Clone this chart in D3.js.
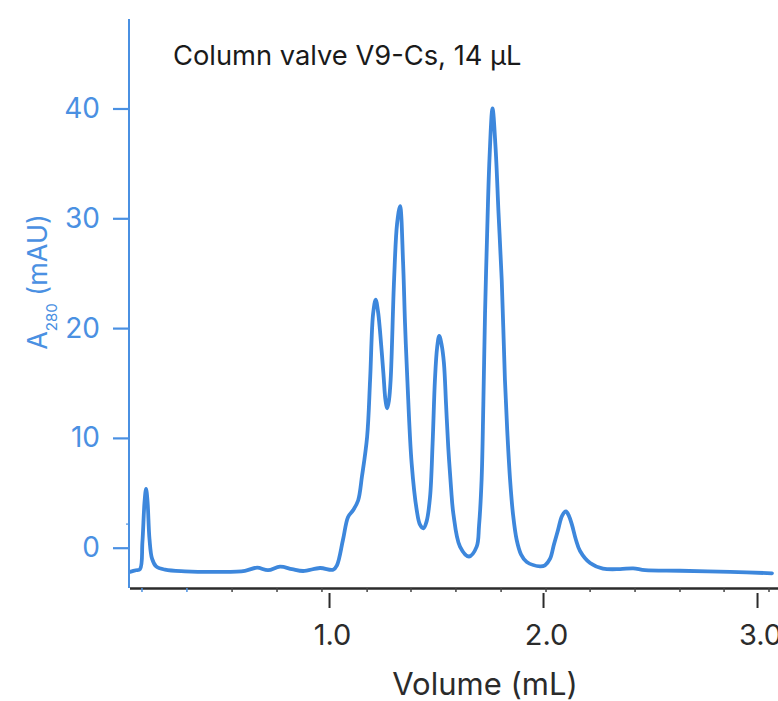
<!DOCTYPE html>
<html>
<head>
<meta charset="utf-8">
<script src="https://cdn.jsdelivr.net/npm/d3@7"></script>
<style>
  html, body { margin: 0; padding: 0; background: #fff; }
  svg { display: block; font-family: Inter, "Noto Sans", sans-serif; }
</style>
</head>
<body>
<svg id="chart" width="778" height="701"></svg>
<script>
// ---- data ----
const volume = [0.070,0.098,0.117,0.128,0.138,0.145,0.152,0.161,0.173,0.192,0.234,0.327,0.491,0.607,0.664,0.715,0.771,0.827,0.879,0.958,1.019,1.037,1.065,1.089,1.112,1.136,1.154,1.178,1.192,1.206,1.218,1.229,1.238,1.254,1.264,1.272,1.280,1.288,1.304,1.318,1.332,1.346,1.355,1.366,1.386,1.410,1.425,1.441,1.456,1.472,1.484,1.495,1.505,1.515,1.526,1.537,1.547,1.557,1.570,1.581,1.612,1.654,1.690,1.701,1.713,1.721,1.729,1.738,1.750,1.764,1.778,1.792,1.807,1.822,1.834,1.846,1.860,1.877,1.897,1.924,1.986,2.009,2.033,2.051,2.070,2.089,2.107,2.121,2.135,2.154,2.173,2.220,2.280,2.360,2.421,2.477,2.640,2.874,3.070];
const absorbance = [-2.2,-2.05,-1.95,0.5,4.2,5.35,4.2,0.8,-1.0,-1.7,-2.0,-2.15,-2.2,-2.1,-1.82,-2.05,-1.73,-1.95,-2.12,-1.85,-2.0,-1.6,0.7,2.8,3.4,4.3,6.5,10.1,15.3,21.3,22.6,21.5,19.8,15.9,13.4,12.7,13.4,15.3,24.4,29.5,31.1,26.0,20.5,15.3,7.7,3.4,2.1,1.77,2.4,4.6,9.5,15.3,18.2,19.3,18.5,16.8,13.0,9.2,5.5,3.1,0.1,-0.8,0.1,2.0,6.2,13.0,21.3,28,35.5,40.0,36.5,30.5,24.4,15.3,10.2,6.2,3.0,0.7,-0.6,-1.3,-1.7,-1.6,-1.0,0.3,1.6,2.9,3.3,2.9,2.1,0.7,-0.3,-1.4,-1.9,-1.95,-1.88,-2.05,-2.1,-2.2,-2.33];
const yTicks = [0, 10, 20, 30, 40];
const xTicks = [1.0, 2.0, 3.0];
const xMinorTicks = [0.126,0.336,0.547,0.757,0.967,1.178,1.383,1.593,1.804,2.014,2.220,2.430,2.640,2.846,3.056];
const yMinorTicks = [2.15];
const titleText = "Column valve V9-Cs, 14 µL";
const xLabel = "Volume (mL)";

// ---- layout ----
const svg = d3.select("#chart");
const blue = "#3d87dc", blueText = "#4a90e2", dark = "#2b2b2b";
const x = d3.scaleLinear().domain([0.07, 3.098]).range([130, 778]);
const y = d3.scaleLinear().domain([-3.67, 48.15]).range([588, 19]);

// line
const line = d3.line().x((d, i) => x(volume[i])).y(d => y(d)).curve(d3.curveCatmullRom.alpha(0.5));
svg.append("path").datum(absorbance)
  .attr("d", line).attr("fill", "none")
  .attr("stroke", blue).attr("stroke-width", 3.8)
  .attr("stroke-linejoin", "round").attr("stroke-linecap", "round");

// y axis
const yAxis = svg.append("g").attr("transform", "translate(129,0)")
  .call(d3.axisLeft(y).tickValues(yTicks).tickSize(16).tickPadding(13).tickFormat(d3.format("d")));
yAxis.select(".domain").attr("d", `M0,${y.range()[1]}V${y.range()[0]}`).attr("stroke", blueText).attr("stroke-width", 2);
yAxis.selectAll(".tick line").attr("stroke", blueText).attr("stroke-width", 2.2);
yAxis.selectAll(".tick text").attr("fill", blueText).attr("font-size", 28).attr("font-family", "Inter, sans-serif");
svg.append("g").selectAll("line").data(yMinorTicks).join("line")
  .attr("x1", 126).attr("x2", 129).attr("y1", d => y(d)).attr("y2", d => y(d))
  .attr("stroke", blueText).attr("stroke-width", 1.2);

// x axis line
svg.append("line").attr("x1", 130).attr("x2", 778).attr("y1", 588.5).attr("y2", 588.5)
  .attr("stroke", dark).attr("stroke-width", 2.4);
// minor ticks
svg.append("g").selectAll("line").data(xMinorTicks).join("line")
  .attr("x1", d => x(d)).attr("x2", d => x(d)).attr("y1", 588).attr("y2", 592)
  .attr("stroke", (d, i) => i < 2 ? blueText : "#444").attr("stroke-width", 1.5);
// major ticks (detached, below axis)
const xAxis = svg.append("g").attr("transform", "translate(0,593)")
  .call(d3.axisBottom(x).tickValues(xTicks).tickSize(15).tickPadding(16).tickFormat(d3.format(".1f")));
xAxis.select(".domain").remove();
xAxis.selectAll(".tick line").attr("stroke", dark).attr("stroke-width", 2);
xAxis.selectAll(".tick text").attr("fill", dark).attr("font-size", 29).attr("font-family", "Inter, sans-serif").attr("dx", 3);

// axis titles
svg.append("text").attr("x", 485).attr("y", 695).attr("text-anchor", "middle")
  .attr("font-size", 31).attr("fill", dark).text(xLabel);

const yl = svg.append("text").attr("transform", "translate(47,282) rotate(-90)")
  .attr("text-anchor", "middle").attr("font-size", 27).attr("fill", blueText);
yl.append("tspan").text("A");
yl.append("tspan").attr("font-size", 15).attr("dy", 10).text("280");
yl.append("tspan").attr("dy", -10).text(" (mAU)");

// title
svg.append("text").attr("x", 173).attr("y", 65).attr("font-size", 27.3).attr("fill", "#1a1a1a").text(titleText);
</script>
</body>
</html>
